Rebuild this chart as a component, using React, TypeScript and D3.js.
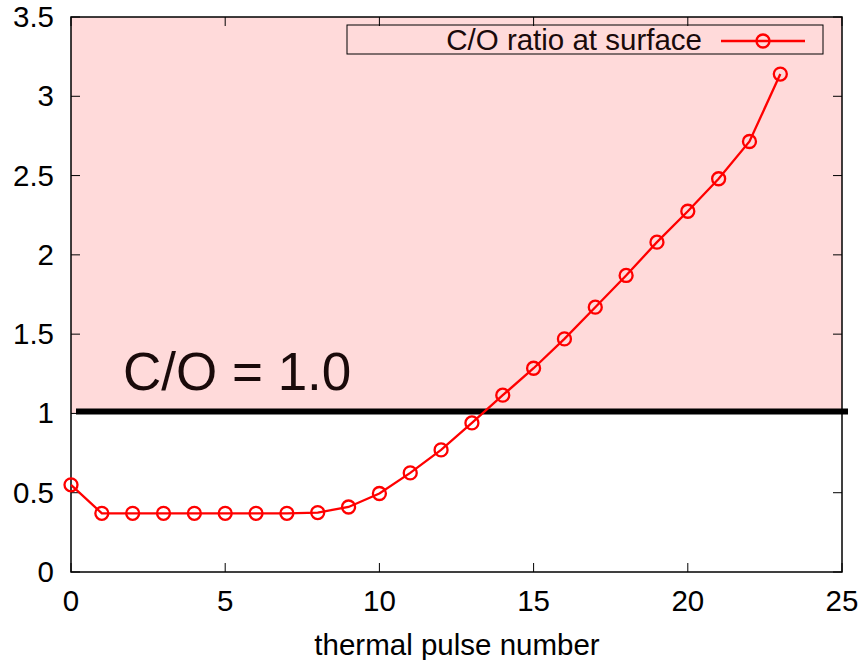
import React from "react";
import * as d3 from "d3";

const pulses = [0,1,2,3,4,5,6,7,8,9,10,11,12,13,14,15,16,17,18,19,20,21,22,23];
const coRatio = [0.55,0.37,0.37,0.37,0.37,0.37,0.37,0.37,0.375,0.41,0.495,0.625,0.77,0.94,1.115,1.285,1.47,1.67,1.87,2.08,2.275,2.48,2.715,3.14];
const xTicks = [0,5,10,15,20,25];
const yTicks = [0,0.5,1,1.5,2,2.5,3,3.5];
const yTickLabels = ["0","0.5","1","1.5","2","2.5","3","3.5"];
const threshold = 1.0;
const seriesName = "C/O ratio at surface";
const xTitle = "thermal pulse number";
const thresholdLabel = "C/O = 1.0";

export default function App() {
  const W = 862, H = 660;
  const x = d3.scaleLinear().domain([0, 25]).range([71, 842]);
  const y = d3.scaleLinear().domain([0, 3.5]).range([572, 17]);
  const line = d3.line<number>().x((_, i) => x(pulses[i])).y((d) => y(d));
  const font = "'Liberation Sans', Arial, Helvetica, sans-serif";
  const red = "#ff0000";
  const pink = "#ffdada";
  const tl = 9;
  const fs = 29.5;
  return (
    <svg width={W} height={H} style={{ position: "absolute", left: 0, top: 0 }} fontFamily={font}>
      <rect x={0} y={0} width={W} height={H} fill="white" />
      <rect x={x(0)} y={y(3.5)} width={x(25) - x(0)} height={y(threshold) - y(3.5)} fill={pink} />
      {yTicks.map((t) => (
        <g key={"y" + t}>
          <line x1={x(0)} x2={x(0) + tl} y1={y(t)} y2={y(t)} stroke="black" strokeWidth={1} />
          <line x1={x(25)} x2={x(25) - tl} y1={y(t)} y2={y(t)} stroke="black" strokeWidth={1} />
        </g>
      ))}
      {xTicks.map((t) => (
        <g key={"x" + t}>
          <line x1={x(t)} x2={x(t)} y1={y(0)} y2={y(0) - tl} stroke="black" strokeWidth={1} />
          <line x1={x(t)} x2={x(t)} y1={y(3.5)} y2={y(3.5) + tl} stroke="black" strokeWidth={1} />
        </g>
      ))}
      <rect x={x(0)} y={y(3.5)} width={x(25) - x(0)} height={y(0) - y(3.5)} fill="none" stroke="black" strokeWidth={1.5} />
      {yTicks.map((t, i) => (
        <text key={"yl" + t} x={54} y={y(t) + 10} textAnchor="end" fontSize={fs} fill="black">{yTickLabels[i]}</text>
      ))}
      {xTicks.map((t) => (
        <text key={"xl" + t} x={x(t)} y={611} textAnchor="middle" fontSize={fs} fill="black">{t}</text>
      ))}
      <text x={457} y={655} textAnchor="middle" fontSize={fs} fill="black">{xTitle}</text>
      <line x1={x(0) + 5} x2={x(25) + 6} y1={y(threshold) - 2} y2={y(threshold) - 2} stroke="black" strokeWidth={6} />
      <text x={123} y={390} fontSize={53} fill="#1a0a0a">{thresholdLabel}</text>
      <path d={line(coRatio) || ""} fill="none" stroke={red} strokeWidth={2.3} />
      {coRatio.map((v, i) => (
        <circle key={i} cx={x(pulses[i])} cy={y(v)} r={6.5} fill="none" stroke={red} strokeWidth={2.3} />
      ))}
      <rect x={347} y={25} width={476} height={29} fill="none" stroke="black" strokeWidth={1} />
      <text x={702} y={50} textAnchor="end" fontSize={fs} fill="#1a0a0a">{seriesName}</text>
      <line x1={721} x2={805} y1={41} y2={41} stroke={red} strokeWidth={2.3} />
      <circle cx={763} cy={41} r={6.5} fill="none" stroke={red} strokeWidth={2.3} />
    </svg>
  );
}
